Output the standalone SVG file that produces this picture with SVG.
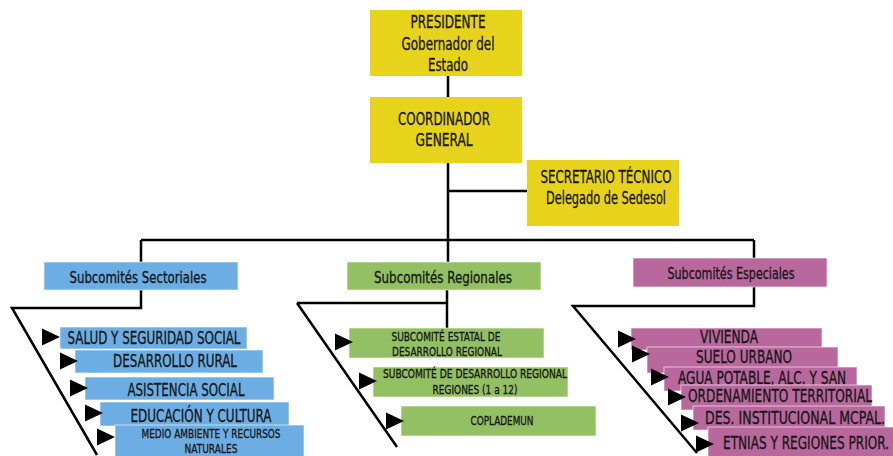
<svg xmlns="http://www.w3.org/2000/svg" width="893" height="456" viewBox="0 0 893 456">
<style>
text{font-family:"Liberation Sans Narrow","DejaVu Sans Condensed","Liberation Sans",sans-serif;fill:#151515;stroke:#151515;stroke-width:0.3;text-anchor:middle;font-stretch:condensed}
.y{fill:#E8D31C}
.b{fill:#6CAEE3;stroke:#ffffff;stroke-opacity:.6;stroke-width:1}
.g{fill:#92C062;stroke:#ffffff;stroke-opacity:.6;stroke-width:1}
.p{fill:#B8689D;stroke:#ffffff;stroke-opacity:.6;stroke-width:1}
.t1{font-size:17px}
.t2{font-size:16px}
.t3{font-size:18px}
.t4{font-size:13px}
.ln{fill:none;stroke:#000;stroke-width:2.5}
</style>
<defs>
<path id="ar" d="M0,-8.5 L0,8.5 L18,0 Z" fill="#000"/>
</defs>
<g id="connectors">
<path class="ln" d="M448,76 V97 M448,163 V240 M448,191 H527" stroke-width="3"/>
<path class="ln" d="M141,240 H754 M141,240 V262 M754,240 V258 M448,240 V262"/>
<path class="ln" d="M141,290 V308 H12 L97,455"/>
<path class="ln" d="M447,290 V328 M297,303 H447 M297,303 L397,447"/>
<path class="ln" d="M754,287 V306 H573 L697,453"/>
</g>
<g id="presidente">
<rect class="y" x="370" y="10" width="152" height="66"/>
<text class="t1" x="448" y="28" textLength="75" lengthAdjust="spacingAndGlyphs">PRESIDENTE</text>
<text class="t1" x="448" y="50" textLength="93" lengthAdjust="spacingAndGlyphs">Gobernador del</text>
<text class="t1" x="448" y="71" textLength="40" lengthAdjust="spacingAndGlyphs">Estado</text>
</g>
<g id="coordinador">
<rect class="y" x="370" y="97" width="152" height="66"/>
<text class="t1" x="444" y="125" textLength="92" lengthAdjust="spacingAndGlyphs">COORDINADOR</text>
<text class="t1" x="444" y="146" textLength="57" lengthAdjust="spacingAndGlyphs">GENERAL</text>
</g>
<g id="secretario">
<rect class="y" x="527" y="160" width="152" height="66"/>
<text class="t1" x="606" y="183" textLength="131" lengthAdjust="spacingAndGlyphs">SECRETARIO TÉCNICO</text>
<text class="t1" x="606" y="204" textLength="120" lengthAdjust="spacingAndGlyphs">Delegado de Sedesol</text>
</g>
<g id="sectoriales">
<rect class="b" x="44" y="262" width="194" height="28"/>
<text class="t2" x="138" y="283" textLength="137" lengthAdjust="spacingAndGlyphs">Subcomités Sectoriales</text>
</g>
<g id="regionales">
<rect class="g" x="347" y="262" width="194" height="28"/>
<text class="t2" x="443" y="283" textLength="138" lengthAdjust="spacingAndGlyphs">Subcomités Regionales</text>
</g>
<g id="especiales">
<rect class="p" x="633" y="258" width="194" height="29"/>
<text class="t2" x="731" y="279" textLength="127" lengthAdjust="spacingAndGlyphs">Subcomités Especiales</text>
</g>
<g id="salud">
<rect class="b" x="60" y="327" width="187" height="22"/>
<use href="#ar" x="42" y="337"/>
<text class="t3" x="154" y="344" textLength="173" lengthAdjust="spacingAndGlyphs">SALUD Y SEGURIDAD SOCIAL</text>
</g>
<g id="desarrollo-rural">
<rect class="b" x="75" y="350" width="188" height="23"/>
<use href="#ar" x="60" y="361"/>
<text class="t3" x="175" y="367" textLength="124" lengthAdjust="spacingAndGlyphs">DESARROLLO RURAL</text>
</g>
<g id="asistencia">
<rect class="b" x="85" y="377" width="189" height="23"/>
<use href="#ar" x="70" y="388"/>
<text class="t3" x="186" y="396" textLength="117" lengthAdjust="spacingAndGlyphs">ASISTENCIA SOCIAL</text>
</g>
<g id="educacion">
<rect class="b" x="100" y="402" width="189" height="24"/>
<use href="#ar" x="85" y="413"/>
<text class="t3" x="201" y="422" textLength="141" lengthAdjust="spacingAndGlyphs">EDUCACIÓN Y CULTURA</text>
</g>
<g id="medio-ambiente">
<rect class="b" x="115" y="425" width="189" height="32"/>
<use href="#ar" x="97" y="437"/>
<text class="t4" x="211" y="438" textLength="139" lengthAdjust="spacingAndGlyphs">MEDIO AMBIENTE Y RECURSOS</text>
<text class="t4" x="211" y="453" textLength="53" lengthAdjust="spacingAndGlyphs">NATURALES</text>
</g>
<g id="estatal">
<rect class="g" x="349" y="328" width="195" height="30"/>
<use href="#ar" x="335" y="342"/>
<text class="t4" x="446" y="341" textLength="109" lengthAdjust="spacingAndGlyphs">SUBCOMITÉ ESTATAL DE</text>
<text class="t4" x="447" y="356" textLength="110" lengthAdjust="spacingAndGlyphs">DESARROLLO REGIONAL</text>
</g>
<g id="regiones">
<rect class="g" x="373" y="367" width="195" height="30"/>
<use href="#ar" x="359" y="381"/>
<text class="t4" x="475" y="378" textLength="184" lengthAdjust="spacingAndGlyphs">SUBCOMITÉ  DE DESARROLLO REGIONAL</text>
<text class="t4" x="475" y="394" textLength="85" lengthAdjust="spacingAndGlyphs">REGIONES (1 a 12)</text>
</g>
<g id="coplademun">
<rect class="g" x="401" y="406" width="195" height="30"/>
<use href="#ar" x="386" y="421"/>
<text class="t4" x="502" y="425" textLength="63" lengthAdjust="spacingAndGlyphs">COPLADEMUN</text>
</g>
<g id="vivienda">
<rect class="p" x="631" y="328" width="191" height="22"/>
<use href="#ar" x="618" y="339"/>
<text class="t3" x="729" y="343" textLength="58" lengthAdjust="spacingAndGlyphs">VIVIENDA</text>
</g>
<g id="suelo">
<rect class="p" x="647" y="347" width="191" height="26"/>
<use href="#ar" x="632" y="354"/>
<text class="t3" x="744" y="363" textLength="96" lengthAdjust="spacingAndGlyphs">SUELO URBANO</text>
</g>
<g id="agua">
<rect class="p" x="664" y="367" width="193" height="24"/>
<use href="#ar" x="651" y="377"/>
<text class="t3" x="762" y="384" textLength="168" lengthAdjust="spacingAndGlyphs">AGUA POTABLE, ALC. Y SAN</text>
</g>
<g id="ordenamiento">
<rect class="p" x="681" y="385" width="191" height="25"/>
<use href="#ar" x="668" y="397"/>
<text class="t3" x="780" y="402" textLength="184" lengthAdjust="spacingAndGlyphs">ORDENAMIENTO TERRITORIAL</text>
</g>
<g id="institucional">
<rect class="p" x="693" y="406" width="192" height="24"/>
<use href="#ar" x="681" y="423"/>
<text class="t3" x="795" y="424" textLength="180" lengthAdjust="spacingAndGlyphs">DES. INSTITUCIONAL MCPAL.</text>
</g>
<g id="etnias">
<rect class="p" x="708" y="427" width="186" height="30"/>
<use href="#ar" x="696" y="444"/>
<text class="t3" x="806" y="449" textLength="166" lengthAdjust="spacingAndGlyphs">ETNIAS Y REGIONES PRIOR.</text>
</g>
</svg>
